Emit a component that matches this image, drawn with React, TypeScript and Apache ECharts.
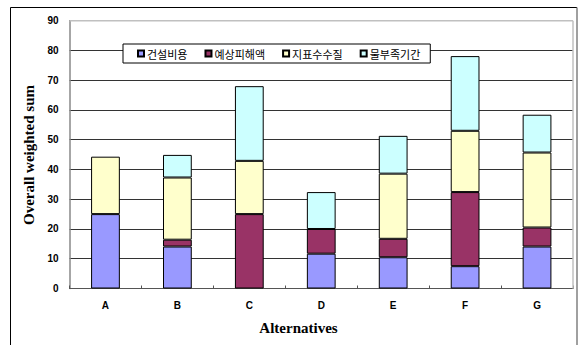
import React, { useEffect, useRef } from "react";
import * as echarts from "echarts";

const categories = ["A", "B", "C", "D", "E", "F", "G"];
const seriesNames = ["건설비용", "예상피해액", "지표수수질", "물부족기간"];
const constructionCost = [25, 14.1, 0, 11.7, 10.5, 7.5, 14.1];
const expectedDamage = [0, 2.3, 25, 8.3, 6.2, 24.9, 6.4];
const surfaceWaterQuality = [19.3, 20.9, 17.9, 0, 21.9, 20.6, 25.2];
const waterShortagePeriod = [0, 7.6, 25.1, 12.4, 12.7, 25.1, 12.7];
const colors = ["#9999FF", "#993366", "#FFFFCC", "#CCFFFF"];

export default function App() {
  const ref = useRef<HTMLDivElement>(null);
  useEffect(() => {
    document.body.style.margin = "0";
    const chart = echarts.init(ref.current!, null, { renderer: "svg" });
    const dataSets = [constructionCost, expectedDamage, surfaceWaterQuality, waterShortagePeriod];
    const gridTop = 20.7;
    const gridBottom = 288.5;
    chart.setOption({
      animation: false,
      backgroundColor: "#ffffff",
      grid: { left: 69.5, right: 8, top: gridTop, bottom: 345 - gridBottom, containLabel: false },
      legend: {
        left: 123,
        top: 44,
        data: seriesNames,
        backgroundColor: "#ffffff",
        borderColor: "#000000",
        borderWidth: 1,
        borderRadius: 0,
        padding: [3, 10, 3, 14],
        itemWidth: 6,
        itemHeight: 6,
        itemGap: 17,
        icon: "rect",
        textStyle: { fontSize: 11, fontFamily: "Noto Sans CJK KR", color: "#000", padding: [0, 0, 0, -2], lineHeight: 13 },
      },
      xAxis: {
        type: "category",
        data: categories,
        axisLine: { lineStyle: { color: "#555", width: 1 } },
        axisTick: { show: true, inside: true, length: 3, lineStyle: { color: "#555" } },
        axisLabel: { fontSize: 10, fontWeight: "bold", fontFamily: "Arial, Liberation Sans", color: "#000", margin: 12 },
      },
      yAxis: {
        type: "value",
        min: 0,
        max: 90,
        interval: 10,
        axisLine: { show: true, lineStyle: { color: "#888", width: 1.5 } },
        axisTick: { show: false },
        axisLabel: { fontSize: 10, fontWeight: "bold", fontFamily: "Arial, Liberation Sans", color: "#000", margin: 11 },
        splitLine: { show: true, lineStyle: { color: "#333", width: 1 } },
      },
      series: seriesNames.map((name, i) => ({
        name,
        type: "bar",
        stack: "total",
        barWidth: "40%",
        data: dataSets[i].map((v) => (v === 0 ? "-" : v)),
        itemStyle: { color: colors[i], borderColor: "#000", borderWidth: 1 },
      })),
      graphic: [
        { type: "line", z: 100, shape: { x1: 69.5, y1: gridTop, x2: 573, y2: gridTop }, style: { stroke: "#c0c0c0", lineWidth: 1.5 } },
        { type: "line", z: 100, shape: { x1: 573, y1: gridTop, x2: 573, y2: gridBottom }, style: { stroke: "#c0c0c0", lineWidth: 1.5 } },
        { type: "line", z: 100, shape: { x1: 10.5, y1: 7.5, x2: 577, y2: 7.5 }, style: { stroke: "#000", lineWidth: 1 } },
        { type: "line", z: 100, shape: { x1: 10.5, y1: 7.5, x2: 10.5, y2: 345 }, style: { stroke: "#000", lineWidth: 1 } },
        { type: "line", z: 100, shape: { x1: 577, y1: 7.5, x2: 577, y2: 345 }, style: { stroke: "#808080", lineWidth: 1.5 } },
        {
          type: "text",
          z: 100,
          x: 29,
          y: 155,
          rotation: Math.PI / 2,
          style: {
            text: "Overall weighted sum",
            font: "bold 15px 'Times New Roman', 'Liberation Serif', serif",
            fill: "#000",
            textAlign: "center",
            textVerticalAlign: "middle",
          },
        },
        {
          type: "text",
          z: 100,
          x: 298.5,
          y: 328,
          style: {
            text: "Alternatives",
            font: "bold 15px 'Times New Roman', 'Liberation Serif', serif",
            fill: "#000",
            textAlign: "center",
            textVerticalAlign: "middle",
          },
        },
      ],
    });
    return () => chart.dispose();
  }, []);
  return <div ref={ref} style={{ width: 581, height: 345 }} />;
}
